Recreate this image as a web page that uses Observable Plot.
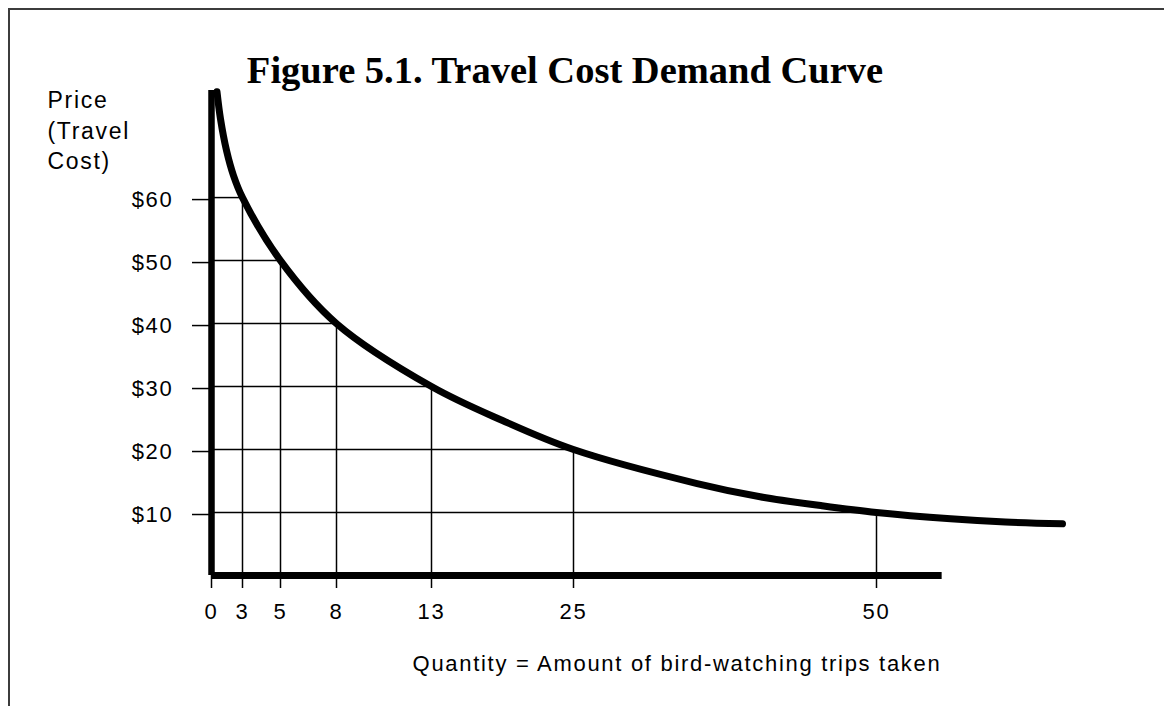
<!DOCTYPE html>
<html>
<head>
<meta charset="utf-8">
<script src="https://cdn.jsdelivr.net/npm/d3@7"></script>
<script src="https://cdn.jsdelivr.net/npm/@observablehq/plot@0.6"></script>
<style>
  html, body { margin: 0; padding: 0; background: #fff; }
  #wrap { position: relative; width: 1164px; height: 706px; overflow: hidden; background: #fff; }
  #border { position: absolute; left: 8px; top: 8px; width: 1200px; height: 800px;
            border-left: 2px solid #3c3c3c; border-top: 2px solid #3c3c3c; }
  #title { position: absolute; left: 0; width: 1130px; top: 51px; text-align: center;
           font: bold 38.5px/38px "Liberation Serif", "Times New Roman", serif; color: #000; }
  #chart { position: absolute; left: 0; top: 0; }
  #chart text { letter-spacing: 1.7px; }
</style>
</head>
<body>
<div id="wrap">
  <div id="border"></div>
  <div id="chart"></div>
  <div id="title"></div>
</div>
<script>
// ---- data ----
const titleText = "Figure 5.1. Travel Cost Demand Curve";
const yLabel = "Price\n(Travel\nCost)";
const xLabel = "Quantity = Amount of bird-watching trips taken";

// tick labels
const xTicks = [0, 3, 5, 8, 13, 25, 50];
const yTicks = [10, 20, 30, 40, 50, 60];

// guide lines: quantity demanded at each price
const guideQ = [3, 5, 8, 13, 25, 50];
const guideP = [60, 50, 40, 30, 20, 10];

// demand curve (quantity, price)
const curveQ = [0.53, 0.87, 1.45, 2.13, 3, 5, 8, 13, 19, 25, 35.2, 40.4, 45.4, 50, 56.1, 60.6, 65.3];
const curveP = [76.8, 72.5, 67.5, 63.5, 60, 50, 40, 30, 24.6, 20, 14.6, 12.5, 11.1, 10, 9.0, 8.5, 8.2];

// axis extents
const yAxisTop = 77;
const xAxisEnd = 55.4;
const xDomainEnd = 65.3;

// the printed quantity axis is not evenly spaced: relative spacing of its ticks
const xSpacing = [0, 31, 69, 125, 220, 362, 665, 851];

// ---- build ----
document.getElementById("title").textContent = titleText;
const guides = guideQ.map((q, i) => ({q, p: guideP[i]}));
const curve = curveQ.map((q, i) => ({q, p: curveP[i]}));
const warp = d3.scaleLinear().domain([...xTicks, xDomainEnd]).range(xSpacing);

const chart = Plot.plot({
  width: 1164,
  height: 706,
  marginLeft: 211,
  marginRight: 102,
  marginTop: 90,
  marginBottom: 131,
  style: { fontFamily: "'Liberation Sans', Arial, Helvetica, sans-serif", fontSize: "22px", color: "#000", background: "transparent" },
  x: { transform: warp, domain: [warp(0), warp(xDomainEnd)] },
  y: { domain: [0, yAxisTop] },
  marks: [
    Plot.axisX(xTicks, { tickSize: 13, tickPadding: 15, strokeWidth: 1.5, label: null, tickFormat: d => String(d) }),
    Plot.axisY(yTicks, { tickSize: 19, tickPadding: 19, strokeWidth: 1.5, label: null, dy: 2, tickFormat: d => "$" + d }),
    Plot.ruleX(guides, { x: "q", y1: 0, y2: "p", strokeWidth: 1.5 }),
    Plot.ruleY(guides, { y: "p", x1: 0, x2: "q", strokeWidth: 1.5 }),
    Plot.ruleX([0], { y1: 0, y2: yAxisTop, strokeWidth: 6.5 }),
    Plot.ruleY([0], { x1: 0, x2: xAxisEnd, strokeWidth: 7 }),
    Plot.line(curve, { x: "q", y: "p", curve: "catmull-rom", strokeWidth: 7, strokeLinecap: "round" }),
    Plot.text([yLabel], { frameAnchor: "top-left", textAnchor: "start", lineAnchor: "top", lineHeight: 1.33, dx: -164, dy: -4, fontSize: 23 }),
    Plot.text([xLabel], { frameAnchor: "bottom", textAnchor: "middle", lineAnchor: "middle", dx: 40, dy: 88, fontSize: 22 })
  ]
});
document.getElementById("chart").appendChild(chart);
</script>
</body>
</html>
